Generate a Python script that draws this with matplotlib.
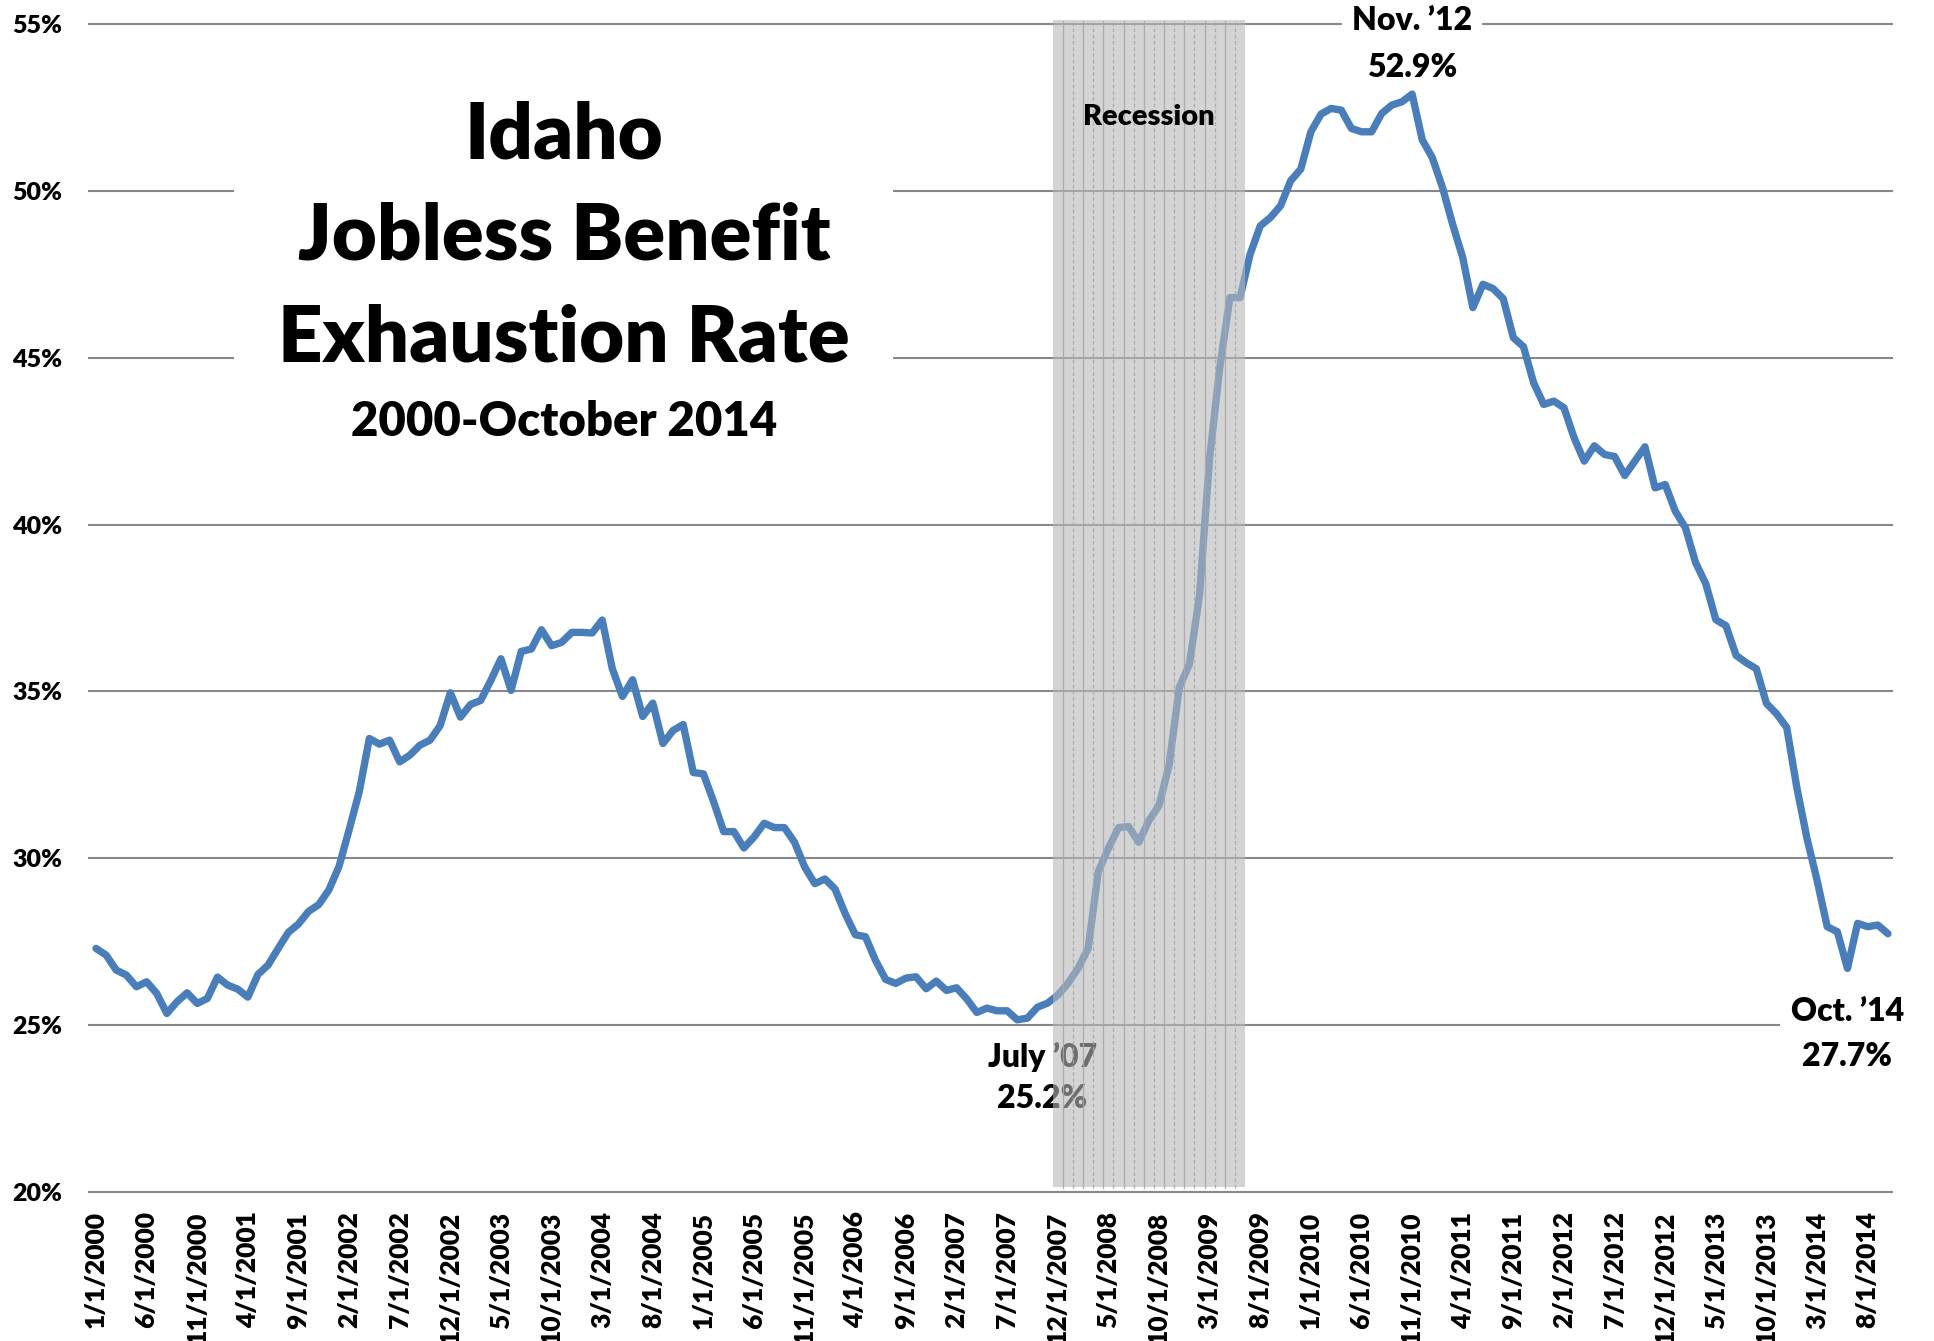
import matplotlib
matplotlib.use("Agg")
import matplotlib.pyplot as plt
from matplotlib.patches import Rectangle
import numpy as np

plt.rcParams['font.family'] = ['Lato', 'DejaVu Sans']
WEIGHT = "heavy"
plt.rcParams['font.weight'] = WEIGHT

# Monthly exhaustion rate (%), Jan 2000 .. Oct 2014
rate = [
    27.3, 27.1, 26.65, 26.5, 26.15, 26.3, 25.95, 25.35, 25.7, 25.97,
    25.65, 25.8, 26.44, 26.2, 26.08, 25.84, 26.52, 26.8, 27.3, 27.78,
    28.03, 28.41, 28.61, 29.05, 29.75, 30.85, 31.99, 33.59, 33.42, 33.54,
    32.89, 33.09, 33.39, 33.54, 33.98, 34.96, 34.23, 34.61, 34.73, 35.33,
    35.98, 35.03, 36.2, 36.27, 36.85, 36.37, 36.47, 36.77, 36.77, 36.75,
    37.14, 35.68, 34.85, 35.35, 34.25, 34.65, 33.44, 33.83, 34.01, 32.57,
    32.53, 31.7, 30.8, 30.8, 30.31, 30.64, 31.05, 30.92, 30.92, 30.48,
    29.74, 29.24, 29.38, 29.08, 28.34, 27.71, 27.65, 26.94, 26.37, 26.25,
    26.41, 26.45, 26.09, 26.32, 26.04, 26.12, 25.79, 25.38, 25.51, 25.43,
    25.43, 25.16, 25.21, 25.54, 25.66, 25.9, 26.25, 26.7, 27.3, 29.6,
    30.3, 30.92, 30.95, 30.48, 31.13, 31.58, 32.8, 35.12, 35.82, 37.88,
    42.0, 44.7, 46.8, 46.8, 48.1, 48.95, 49.2, 49.55, 50.3, 50.65,
    51.77, 52.3, 52.47, 52.42, 51.87, 51.77, 51.77, 52.32, 52.57, 52.67,
    52.9, 51.53, 50.99, 50.1, 49.0, 48.0, 46.5, 47.2, 47.07, 46.77,
    45.6, 45.33, 44.25, 43.6, 43.7, 43.5, 42.6, 41.9, 42.36, 42.1,
    42.04, 41.47, 41.9, 42.33, 41.1, 41.2, 40.4, 39.9, 38.86, 38.23,
    37.15, 36.97, 36.08, 35.86, 35.68, 34.64, 34.33, 33.92, 32.12, 30.6,
    29.34, 27.95, 27.8, 26.7, 28.05, 27.95, 28.0, 27.74,
]

x_tick_labels = [
    "1/1/2000", "6/1/2000", "11/1/2000", "4/1/2001", "9/1/2001", "2/1/2002",
    "7/1/2002", "12/1/2002", "5/1/2003", "10/1/2003", "3/1/2004", "8/1/2004",
    "1/1/2005", "6/1/2005", "11/1/2005", "4/1/2006", "9/1/2006", "2/1/2007",
    "7/1/2007", "12/1/2007", "5/1/2008", "10/1/2008", "3/1/2009", "8/1/2009",
    "1/1/2010", "6/1/2010", "11/1/2010", "4/1/2011", "9/1/2011", "2/1/2012",
    "7/1/2012", "12/1/2012", "5/1/2013", "10/1/2013", "3/1/2014", "8/1/2014",
]
tick_step = 5  # months between labels

y_ticks = [20, 25, 30, 35, 40, 45, 50, 55]
y_tick_labels = ["20%", "25%", "30%", "35%", "40%", "45%", "50%", "55%"]

# recession months (index of Dec 2007 .. Jun 2009)
recession_first = 95
recession_last = 113

title_lines = ["Idaho", "Jobless Benefit", "Exhaustion Rate"]
subtitle = "2000-October 2014"
peak_label = ("Nov. \u201912", "52.9%")
low_label = ("July \u201907", "25.2%")
last_label = ("Oct. \u201914", "27.7%")

W, H = 1934, 1341
fig = plt.figure(figsize=(W / 100, H / 100), dpi=100)
ax = fig.add_axes([89 / W, 1 - 1192 / H, (1892 - 89) / W, (1192 - 24) / H])

months = np.arange(len(rate))
ax.set_xlim(-0.69, len(rate) - 1 + 0.4)
ax.set_ylim(20, 55)

grid_col = "#888888"
for v in y_ticks:
    ax.axhline(v, color=grid_col, lw=1.5, zorder=1, clip_on=False)

# white block behind title (breaks gridlines)
ax.add_patch(Rectangle((0.0804, 0.63), 0.4459 - 0.0804, 0.31,
                       transform=ax.transAxes, facecolor="white",
                       edgecolor="none", zorder=2))

ax.plot(months, rate, color="#4a7ebb", lw=5.3, zorder=3,
        solid_joinstyle="round", solid_capstyle="round")

ax.set_yticks(y_ticks)
ax.set_yticklabels(y_tick_labels, fontsize=18, fontweight=WEIGHT)
ax.set_xticks(np.arange(len(x_tick_labels)) * tick_step)
ax.set_xticklabels(x_tick_labels, rotation=90, fontsize=19,
                   fontweight=WEIGHT, va="top", ha="center")
ax.tick_params(axis="y", length=0, pad=19)
ax.tick_params(axis="x", length=0, pad=14)
for s in ax.spines.values():
    s.set_visible(False)

# title
tx = (564 - 89) / (1892 - 89)
def fy(py):
    return (1192 - py) / (1192 - 24)
ax.text(tx, fy(136), title_lines[0], transform=ax.transAxes, ha="center",
        va="center", fontsize=56, fontweight=WEIGHT, zorder=4)
ax.text(tx, fy(237), title_lines[1], transform=ax.transAxes, ha="center",
        va="center", fontsize=56, fontweight=WEIGHT, zorder=4)
ax.text(tx, fy(339), title_lines[2], transform=ax.transAxes, ha="center",
        va="center", fontsize=56, fontweight=WEIGHT, zorder=4)
ax.text(tx, fy(422), subtitle, transform=ax.transAxes, ha="center",
        va="center", fontsize=34, fontweight=WEIGHT, zorder=4)

# annotations
peak_i = int(np.argmax(rate))
ax.text(peak_i, 55.1, peak_label[0], ha="center", va="center", fontsize=23,
        fontweight=WEIGHT, zorder=4, clip_on=False,
        bbox=dict(boxstyle="square,pad=0.3", fc="white", ec="none"))
ax.text(peak_i, 53.7, peak_label[1], ha="center", va="center", fontsize=23,
        fontweight=WEIGHT, zorder=4)

ax.text(93.5, 24.05, low_label[0], ha="center", va="center", fontsize=23,
        fontweight=WEIGHT, zorder=4)
ax.text(93.5, 22.8, low_label[1], ha="center", va="center", fontsize=23,
        fontweight=WEIGHT, zorder=4)

last_i = len(rate) - 1
ax.text(last_i - 4, 25.4, last_label[0], ha="center", va="center",
        fontsize=23, fontweight=WEIGHT, zorder=4, clip_on=False,
        bbox=dict(boxstyle="square,pad=0.35", fc="white", ec="none"))
ax.text(last_i - 4, 24.05, last_label[1], ha="center", va="center",
        fontsize=23, fontweight=WEIGHT, zorder=4, clip_on=False)

# recession band
x0 = recession_first - 0.5
x1 = recession_last + 0.5
ax.axvspan(x0, x1, ymin=0.004, ymax=1.0036, facecolor="#b8b8b8",
           alpha=0.6, edgecolor="none", zorder=5, clip_on=False)
for k, m in enumerate(range(recession_first, recession_last)):
    ax.plot([m + 0.5, m + 0.5], [20.13, 55.1], color="#a8a8a8", lw=0.9,
            ls="-" if k % 2 == 0 else (0, (3, 2)), zorder=5.1,
            clip_on=False, alpha=0.9)
ax.text((x0 + x1) / 2, 52.2, "Recession", ha="center", va="center",
        fontsize=21, fontweight=WEIGHT, zorder=6)

fig.savefig("out.png", dpi=100, facecolor="white")
